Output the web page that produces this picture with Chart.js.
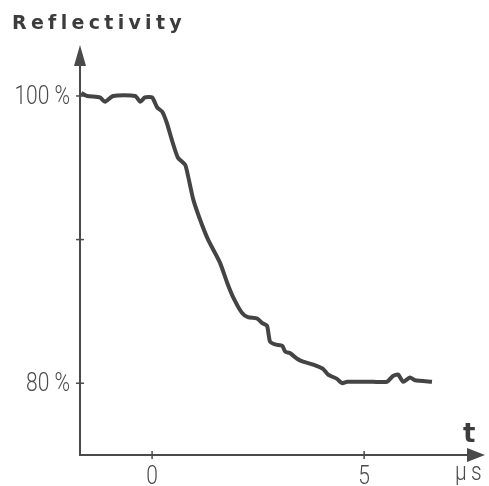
<!DOCTYPE html>
<html>
<head>
<meta charset="utf-8">
<script src="https://cdn.jsdelivr.net/npm/chart.js@4"></script>
<style>
  html, body { margin: 0; padding: 0; background: #fff; }
  #wrap { width: 489px; height: 486px; }
</style>
</head>
<body>
<div id="wrap"><canvas id="reflChart"></canvas></div>
<script>
// time in microseconds, reflectivity in percent
const timeUs = [-1.67, -1.53, -1.23, -1.11, -0.92, -0.40, -0.28, -0.17, 0, 0.12, 0.24, 0.35, 0.47, 0.61, 0.78, 0.85, 0.97, 1.13, 1.32, 1.60, 1.77, 1.91, 2.12, 2.26, 2.48, 2.59, 2.71, 2.78, 2.90, 3.07, 3.14, 3.25, 3.42, 3.56, 3.80, 4.03, 4.15, 4.36, 4.48, 4.60, 4.83, 5.21, 5.54, 5.68, 5.80, 5.92, 6.08, 6.20, 6.60];
const reflectivity = [100.2, 100.0, 99.9, 99.6, 100.0, 100.0, 99.6, 99.9, 99.9, 99.2, 98.9, 98.1, 96.9, 95.7, 95.2, 94.4, 92.8, 91.4, 90.0, 88.4, 87.0, 86.0, 84.9, 84.6, 84.5, 84.2, 84.0, 82.9, 82.7, 82.6, 82.2, 82.1, 81.7, 81.5, 81.3, 81.0, 80.6, 80.3, 80.0, 80.1, 80.1, 80.1, 80.1, 80.5, 80.6, 80.1, 80.4, 80.2, 80.1];
const xTicks = [0, 5];
const xTickLabels = { 0: '0', 5: '5' };
const yTicks = [80, 90, 100];
const yTickLabels = { 80: '80 %', 90: '', 100: '100 %' };

const ink = '#4a4a4a';
const labelFont = '300 25px Roboto, "DejaVu Sans", sans-serif';

// narrow label: regular face squeezed horizontally
function narrowText(ctx, text, x, y, align) {
  ctx.save();
  ctx.translate(x, y);
  ctx.scale(0.84, 1);
  ctx.textAlign = align;
  ctx.fillText(text, 0, 0);
  ctx.restore();
}

// axes with arrow heads, crossing tick marks and labels
const axisArrows = {
  id: 'axisArrows',
  afterDraw(chart) {
    const { ctx, chartArea: a, scales: { x, y } } = chart;
    ctx.save();
    ctx.strokeStyle = ink;
    ctx.fillStyle = ink;
    ctx.lineWidth = 2;

    ctx.beginPath();
    ctx.moveTo(a.left, a.top + 10);
    ctx.lineTo(a.left, a.bottom);
    ctx.lineTo(a.right - 10, a.bottom);
    ctx.stroke();

    // arrow heads
    ctx.beginPath();
    ctx.moveTo(a.left, a.top);
    ctx.lineTo(a.left - 6, a.top + 21);
    ctx.lineTo(a.left + 6, a.top + 21);
    ctx.closePath();
    ctx.fill();
    ctx.beginPath();
    ctx.moveTo(a.right, a.bottom);
    ctx.lineTo(a.right - 18, a.bottom - 7);
    ctx.lineTo(a.right - 18, a.bottom + 7);
    ctx.closePath();
    ctx.fill();

    ctx.lineWidth = 1.5;
    ctx.font = labelFont;
    ctx.textBaseline = 'alphabetic';
    yTicks.forEach(v => {
      const py = y.getPixelForValue(v);
      ctx.beginPath();
      ctx.moveTo(a.left - 4, py);
      ctx.lineTo(a.left + 4, py);
      ctx.stroke();
      ctx.fillStyle = '#4c4c4c';
      narrowText(ctx, yTickLabels[v], a.left - 10, py + 8, 'right');
    });
    xTicks.forEach(v => {
      const px = x.getPixelForValue(v);
      ctx.beginPath();
      ctx.moveTo(px, a.bottom - 4);
      ctx.lineTo(px, a.bottom + 4);
      ctx.stroke();
      ctx.fillStyle = '#4c4c4c';
      narrowText(ctx, xTickLabels[v], px, a.bottom + 29, 'center');
    });

    ctx.fillStyle = '#3c3c3c';
    ctx.textAlign = 'left';
    ctx.font = 'bold 19px "DejaVu Sans", sans-serif';
    ctx.letterSpacing = '4.3px';
    ctx.fillText('Reflectivity', 12, 29);
    ctx.letterSpacing = '0px';

    ctx.font = 'bold 26px "DejaVu Sans", sans-serif';
    ctx.fillText('t', 463, 442);

    ctx.fillStyle = '#4c4c4c';
    ctx.font = labelFont;
    ctx.letterSpacing = '5px';
    narrowText(ctx, '\u03bcs', 455, 480, 'left');
    ctx.restore();
  }
};

new Chart('reflChart', {
  type: 'line',
  data: {
    datasets: [{
      data: timeUs.map((t, i) => ({ x: t, y: reflectivity[i] })),
      borderColor: '#444',
      borderWidth: 4,
      pointRadius: 0,
      tension: 0.2,
      fill: false
    }]
  },
  options: {
    responsive: true,
    maintainAspectRatio: false,
    animation: false,
    layout: { padding: { top: 45, right: 4, left: 0, bottom: 0 } },
    plugins: { legend: { display: false }, tooltip: { enabled: false } },
    scales: {
      x: {
        type: 'linear',
        min: -1.7,
        max: 7.85,
        afterBuildTicks: s => { s.ticks = xTicks.map(v => ({ value: v })); },
        afterFit: s => { s.height = 31; },
        grid: { display: false },
        border: { display: false },
        ticks: { display: false }
      },
      y: {
        min: 75,
        max: 103.55,
        afterBuildTicks: s => { s.ticks = yTicks.map(v => ({ value: v })); },
        afterFit: s => { s.width = 80; },
        grid: { display: false },
        border: { display: false },
        ticks: { display: false }
      }
    }
  },
  plugins: [axisArrows]
});
</script>
</body>
</html>
